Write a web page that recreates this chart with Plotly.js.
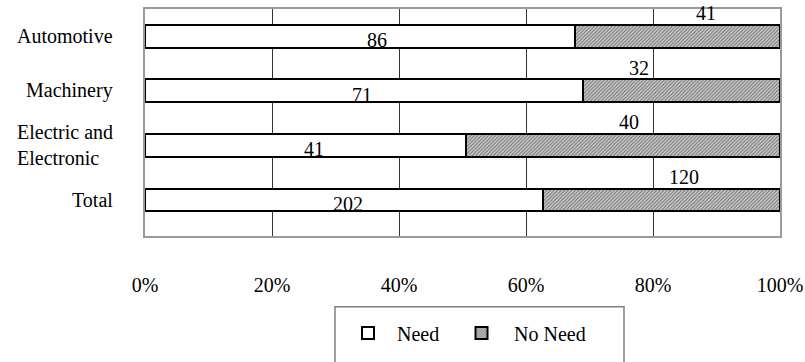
<!DOCTYPE html>
<html>
<head>
<meta charset="utf-8">
<script src="https://cdn.plot.ly/plotly-3.0.1.min.js"></script>
<style>
  html, body { margin: 0; padding: 0; background: #fff; }
  #chart { width: 805px; height: 362px; }
</style>
</head>
<body>
<div id="chart"></div>
<script>
// Survey counts per industry: firms that need / do not need the service
const categories = ['Automotive', 'Machinery', 'Electric and Electronic', 'Total'];
const categoryLabels = ['Automotive', 'Machinery', 'Electric and<br>Electronic', 'Total'];
const needCounts = [86, 71, 41, 202];
const noNeedCounts = [41, 32, 40, 120];
const xTickValues = [0, 20, 40, 60, 80, 100];

// Small horizontal nudges (px) for the count labels
const needLabelNudge = [17, -2, 8, 4];
const noNeedLabelNudge = [28, -42, 6, 22];

const serifFont = { family: 'Liberation Serif', size: 20 };

// Convert counts to shares of each row (100% stacked)
const totals = needCounts.map((v, i) => v + noNeedCounts[i]);
const needPct = needCounts.map((v, i) => 100 * v / totals[i]);
const noNeedPct = noNeedCounts.map((v, i) => 100 * v / totals[i]);

const traces = [
  {
    type: 'bar', orientation: 'h', name: 'Need', legend: 'legend',
    y: categories, x: needPct,
    marker: { color: '#ffffff', line: { color: '#000000', width: 2 } },
    hoverinfo: 'skip'
  },
  {
    type: 'bar', orientation: 'h', name: 'No Need', legend: 'legend2',
    y: categories, x: noNeedPct,
    marker: {
      color: '#cfcfcf',
      line: { color: '#000000', width: 2 },
      pattern: { shape: '/', fgcolor: '#7a7a7a', bgcolor: '#d6d6d6', size: 2.5, solidity: 0.5 }
    },
    hoverinfo: 'skip'
  }
];

const annotations = [];
categories.forEach((c, i) => {
  // category label, left-aligned block ending just left of the plot
  annotations.push({
    xref: 'paper', yref: 'y', x: 0, y: c, xshift: -30,
    xanchor: 'right', yanchor: 'middle', align: 'left',
    text: categoryLabels[i], showarrow: false,
    font: { family: 'Liberation Serif', size: 20 }
  });
  // "Need" count inside the white segment
  annotations.push({
    xref: 'x', yref: 'y', x: needPct[i] / 2, y: c,
    xshift: needLabelNudge[i], yshift: -4,
    xanchor: 'center', yanchor: 'middle',
    text: String(needCounts[i]), showarrow: false,
    font: { family: 'Liberation Serif', size: 20 }
  });
  // "No Need" count just above the hatched segment
  annotations.push({
    xref: 'x', yref: 'y', x: needPct[i] + noNeedPct[i] / 2, y: c,
    xshift: noNeedLabelNudge[i], yshift: 23,
    xanchor: 'center', yanchor: 'middle',
    text: String(noNeedCounts[i]), showarrow: false,
    font: { family: 'Liberation Serif', size: 20 }
  });
});

// plot area spans 145..780 px across and 9..243 px down
const toPaperY = py => (243 - py) / 234;
const toPaperX = px => (px - 145) / 635;

const legendStyle = (px, itemW) => ({
  orientation: 'h',
  x: toPaperX(px), xanchor: 'left',
  y: toPaperY(323), yanchor: 'top',
  borderwidth: 0,
  bgcolor: 'rgba(0,0,0,0)',
  itemwidth: itemW,
  font: { family: 'Liberation Serif', size: 20, color: '#000000' }
});

const layout = {
  width: 805, height: 362,
  margin: { l: 145, r: 25, t: 9, b: 119 },
  paper_bgcolor: '#ffffff', plot_bgcolor: '#ffffff',
  barmode: 'stack',
  bargap: 0.58,
  showlegend: true,
  legend: legendStyle(339, 48),
  legend2: legendStyle(449, 55),
  shapes: [
    // legend frame, running past the bottom edge
    {
      type: 'rect', xref: 'paper', yref: 'paper', layer: 'below',
      x0: toPaperX(335), x1: toPaperX(624), y0: toPaperY(316), y1: toPaperY(380),
      line: { color: '#808080', width: 1.5 }, fillcolor: 'rgba(0,0,0,0)'
    }
  ],
  xaxis: {
    range: [0, 100],
    tickvals: xTickValues,
    ticktext: xTickValues.map(v => v + '%'),
    ticks: '',
    ticklabelstandoff: 30,
    showgrid: true, gridcolor: '#333333', gridwidth: 1,
    zeroline: false,
    showline: true, mirror: true, linecolor: '#9a9a9a', linewidth: 2,
    tickfont: { family: 'Liberation Serif', size: 20, color: '#000000' },
    fixedrange: true
  },
  yaxis: {
    type: 'category',
    autorange: 'reversed',
    showticklabels: false,
    ticks: '',
    showgrid: false, zeroline: false,
    showline: true, mirror: true, linecolor: '#9a9a9a', linewidth: 2,
    fixedrange: true
  },
  annotations: annotations
};

Plotly.newPlot('chart', traces, layout, { displayModeBar: false }).then(gd => {
  // make sure every SVG label uses the serif face
  gd.querySelectorAll('text').forEach(t => {
    t.style.fontFamily = "'Liberation Serif', 'Times New Roman', serif";
    t.style.fill = '#000000';
  });
});
</script>
</body>
</html>
